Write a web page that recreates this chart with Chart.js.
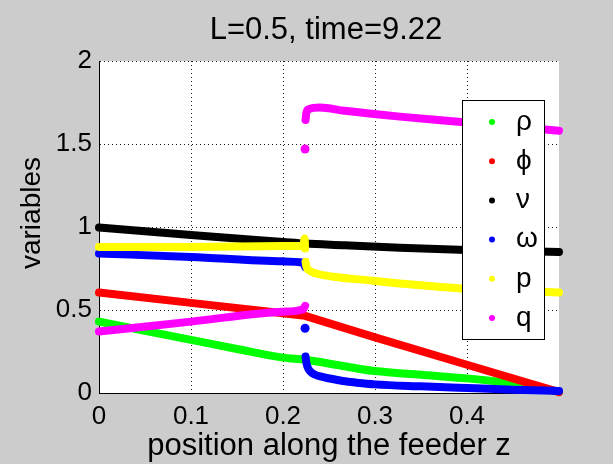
<!DOCTYPE html>
<html>
<head>
<meta charset="utf-8">
<script src="https://cdn.jsdelivr.net/npm/chart.js@4/dist/chart.umd.min.js"></script>
<style>
  html, body { margin: 0; padding: 0; background: #cccccc; }
  canvas { display: block; }
</style>
</head>
<body>
<canvas id="chart" width="613" height="464"></canvas>
<script>
// values; a null breaks the line at the jump near z = 0.224
const names = ['ρ', 'ϕ', 'ν', 'ω', 'p', 'q'];
const colors = ['#00ff00', '#ff0000', '#000000', '#0000ff', '#ffff00', '#ff00ff'];

const xTicks = [0, 0.1, 0.2, 0.3, 0.4];
const yTicks = [0, 0.5, 1, 1.5, 2];

const zRho = [0, 0.05, 0.1, 0.15, 0.2, 0.224, 0.265, 0.3, 0.35, 0.4, 0.45, 0.5];
const rho  = [0.43, 0.375, 0.32, 0.265, 0.213, 0.2, 0.163, 0.132, 0.11, 0.088, 0.058, 0.008];

const zPhi = [0, 0.1, 0.2, 0.224, 0.3, 0.4, 0.5];
const phi  = [0.605, 0.543, 0.48, 0.465, 0.335, 0.17, 0.005];

const zNu = [0, 0.1, 0.2, 0.224, 0.267, 0.327, 0.4, 0.5];
const nu  = [0.997, 0.952, 0.91, 0.9, 0.89, 0.875, 0.862, 0.85];

const zOmega = [0, 0.1, 0.2, 0.222, 0.224, 0.2242, 0.2245, 0.2255, 0.227, 0.23, 0.235, 0.242, 0.25, 0.265, 0.28, 0.3, 0.35, 0.4, 0.45, 0.5];
const omega  = [0.84, 0.82, 0.793, 0.785, 0.76, null, 0.22, 0.18, 0.152, 0.128, 0.11, 0.098, 0.088, 0.072, 0.062, 0.052, 0.04, 0.03, 0.02, 0.012];
const zOmegaDot = [0.224];
const omegaDot  = [0.39];

const zP = [0, 0.1, 0.2, 0.222, 0.2235, 0.224, 0.2242, 0.2245, 0.2255, 0.228, 0.236, 0.255, 0.291, 0.327, 0.4, 0.5];
const p  = [0.88, 0.88, 0.885, 0.885, 0.93, 0.87, null, 0.79, 0.76, 0.74, 0.72, 0.70, 0.68, 0.66, 0.627, 0.605];

const zQ = [0, 0.1, 0.2, 0.222, 0.224, 0.2242, 0.2245, 0.2255, 0.228, 0.24, 0.267, 0.327, 0.4, 0.5];
const q  = [0.37, 0.43, 0.49, 0.505, 0.525, null, 1.645, 1.69, 1.71, 1.72, 1.70, 1.665, 1.63, 1.58];
const zQDot = [0.224];
const qDot  = [1.47];

const lines = [[zRho, rho], [zPhi, phi], [zNu, nu], [zOmega, omega], [zP, p], [zQ, q]];
const dots = [[3, zOmegaDot, omegaDot], [5, zQDot, qDot]];

const FONT = "'Liberation Sans', Arial, 'DejaVu Sans', sans-serif";
Chart.defaults.font.family = FONT;
Chart.defaults.color = '#000';

function pts(zs, vs) {
    return zs.map((z, i) => ({ x: z, y: vs[i] }));
}

const datasets = lines.map(([zs, vs], i) => ({
    label: names[i],
    data: pts(zs, vs),
    borderColor: colors[i],
    backgroundColor: colors[i],
    borderWidth: 8,
    borderCapStyle: 'round',
    borderJoinStyle: 'round',
    pointRadius: 0,
    // phi is two straight pieces with a sharp corner, the rest are smooth
    cubicInterpolationMode: i === 1 ? 'default' : 'monotone',
    tension: 0,
    spanGaps: false,
    clip: false,
    order: names.length - i  // later variables drawn on top, like the original
}));

dots.forEach(([idx, zs, vs]) => {
    datasets.push({
        label: names[idx] + ' dot',
        data: pts(zs, vs),
        showLine: false,
        pointRadius: 4.5,
        pointBorderWidth: 0,
        pointBackgroundColor: colors[idx],
        clip: false,
        order: -1
    });
});

// white axes box, title, y label and the boxed legend
const decorations = {
    id: 'decorations',
    beforeDraw(chart) {
        const { ctx, chartArea: a } = chart;
        ctx.save();
        ctx.fillStyle = '#ffffff';
        ctx.fillRect(a.left, a.top, a.right - a.left, a.bottom - a.top);
        ctx.restore();
    },
    afterDraw(chart) {
        const ctx = chart.ctx;
        ctx.save();
        ctx.fillStyle = '#000';
        ctx.textAlign = 'center';
        ctx.textBaseline = 'middle';
        ctx.font = '31px ' + FONT;
        ctx.fillText('L=0.5, time=9.22', 326, 30);

        ctx.translate(32, 213);
        ctx.rotate(-Math.PI / 2);
        ctx.font = '28px ' + FONT;
        ctx.fillText('variables', 0, 0);
        ctx.restore();

        // legend
        ctx.save();
        ctx.fillStyle = '#ffffff';
        ctx.fillRect(462, 100, 82, 239);
        ctx.strokeStyle = '#000';
        ctx.lineWidth = 1;
        ctx.strokeRect(462.5, 100.5, 82, 239);
        ctx.font = '28px ' + FONT;
        ctx.textAlign = 'left';
        ctx.textBaseline = 'middle';
        names.forEach((n, i) => {
            const y = 122 + i * 39.2;
            ctx.fillStyle = colors[i];
            ctx.beginPath();
            ctx.arc(492, y, 3, 0, Math.PI * 2);
            ctx.fill();
            ctx.fillStyle = '#000';
            ctx.fillText(n, 516, y);
        });
        ctx.restore();
    }
};

const gridStyle = { color: 'rgba(0,0,0,0.9)', lineWidth: 1, drawTicks: false };
const borderStyle = { display: true, color: '#000', width: 1, dash: [1, 3] };

new Chart(document.getElementById('chart'), {
    type: 'line',
    data: { datasets: datasets },
    options: {
        responsive: false,
        animation: false,
        devicePixelRatio: 1,
        layout: { padding: { top: 61, right: 54, left: 0, bottom: 0 } },
        plugins: {
            legend: { display: false },
            tooltip: { enabled: false }
        },
        scales: {
            x: {
                type: 'linear',
                min: 0,
                max: 0.5,
                afterBuildTicks: s => { s.ticks = xTicks.map(v => ({ value: v })); },
                afterFit: s => { s.height = 71; },
                grid: gridStyle,
                border: borderStyle,
                ticks: {
                    font: { size: 26 },
                    color: '#000',
                    padding: 8,
                    maxRotation: 0,
                    autoSkip: false,
                    callback: v => String(v)
                },
                title: {
                    display: true,
                    text: 'position along the feeder z',
                    font: { size: 31, lineHeight: 1 },
                    padding: { top: 0, bottom: 2 },
                    color: '#000'
                }
            },
            y: {
                min: 0,
                max: 2,
                afterBuildTicks: s => { s.ticks = yTicks.map(v => ({ value: v })); },
                afterFit: s => { s.width = 99; },
                grid: gridStyle,
                border: borderStyle,
                ticks: {
                    font: { size: 26 },
                    color: '#000',
                    padding: 7,
                    autoSkip: false,
                    callback: v => String(v)
                }
            }
        }
    },
    plugins: [decorations]
});
</script>
</body>
</html>
